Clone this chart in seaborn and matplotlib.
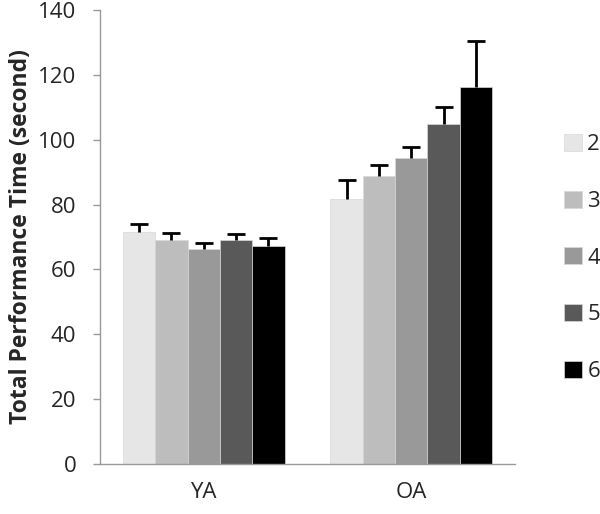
import numpy as np
import pandas as pd
import matplotlib
matplotlib.use("Agg")
import matplotlib.pyplot as plt
import seaborn as sns
from matplotlib.patches import Patch

groups = ["YA", "OA"]
levels = ["2", "3", "4", "5", "6"]
ya_means = [71.4, 69.0, 66.4, 69.0, 67.3]
ya_errs = [2.6, 2.1, 1.6, 1.9, 2.3]
oa_means = [81.7, 88.9, 94.3, 104.8, 116.3]
oa_errs = [6.0, 3.2, 3.5, 5.4, 14.1]
colors = ["#e6e6e6", "#bdbdbd", "#999999", "#595959", "#000000"]
yticks = [0, 20, 40, 60, 80, 100, 120, 140]

rows = []
for g, means, errs in [("YA", ya_means, ya_errs), ("OA", oa_means, oa_errs)]:
    for lv, m, e in zip(levels, means, errs):
        rows.append({"group": g, "level": lv, "time": m, "err": e})
df = pd.DataFrame(rows)

sns.set_theme(style="white")
plt.rcParams["font.family"] = ["Open Sans", "DejaVu Sans"]

fig = plt.figure(figsize=(6.0, 5.14), dpi=100)
ax = fig.add_axes([0.1667, 0.0973, 0.6916, 0.8832])

sns.barplot(data=df, x="group", y="time", hue="level", order=groups,
            hue_order=levels, palette=colors, errorbar=None, width=0.78,
            edgecolor="#d8d8d8", linewidth=0.5, ax=ax, legend=False)

# error bars (upward only) at bar centres
for i, lv in enumerate(levels):
    cont = ax.containers[i]
    sub = df[df["level"] == lv].set_index("group").loc[groups]
    xs = [p.get_x() + p.get_width() / 2 for p in cont.patches]
    ys = sub["time"].values
    es = sub["err"].values
    eb = ax.errorbar(xs, ys, yerr=[np.zeros_like(es), es], fmt="none",
                     ecolor="black", elinewidth=2, capsize=6.5, capthick=2)
    caps = eb[1]
    if len(caps) > 1:
        caps[0].set_visible(False)

ax.set_xlim(-0.5, 1.5)
ax.set_ylim(0, 140)
ax.set_yticks(yticks)
ax.set_yticklabels([str(t) for t in yticks], fontsize=16)
ax.set_xticks([0, 1])
ax.set_xticklabels(groups, fontsize=16)
ax.set_xticks([-0.5, 0.5, 1.5], minor=True)
ax.tick_params(axis="x", which="major", length=0, pad=13)
ax.tick_params(axis="x", which="minor", length=5, width=1, color="#999999", direction="out")
ax.tick_params(axis="y", which="major", length=5, width=1, color="#999999",
               direction="out", left=True, pad=12)
ax.set_xlabel("")
ax.set_ylabel("Total Performance Time (second)", fontsize=16.5, fontweight="bold", labelpad=4)

for s in ["top", "right"]:
    ax.spines[s].set_visible(False)
for s in ["left", "bottom"]:
    ax.spines[s].set_color("#999999")
    ax.spines[s].set_linewidth(1)

handles = [Patch(facecolor=c, edgecolor="#d8d8d8", linewidth=0.5) for c in colors]
fig.legend(handles, levels, loc="center left", bbox_to_anchor=(0.94, 0.498),
           frameon=False, fontsize=16, labelspacing=1.6, handlelength=0.8,
           handleheight=0.8, handletextpad=0.25, borderpad=0, borderaxespad=0)

fig.savefig("out.png", dpi=100)
